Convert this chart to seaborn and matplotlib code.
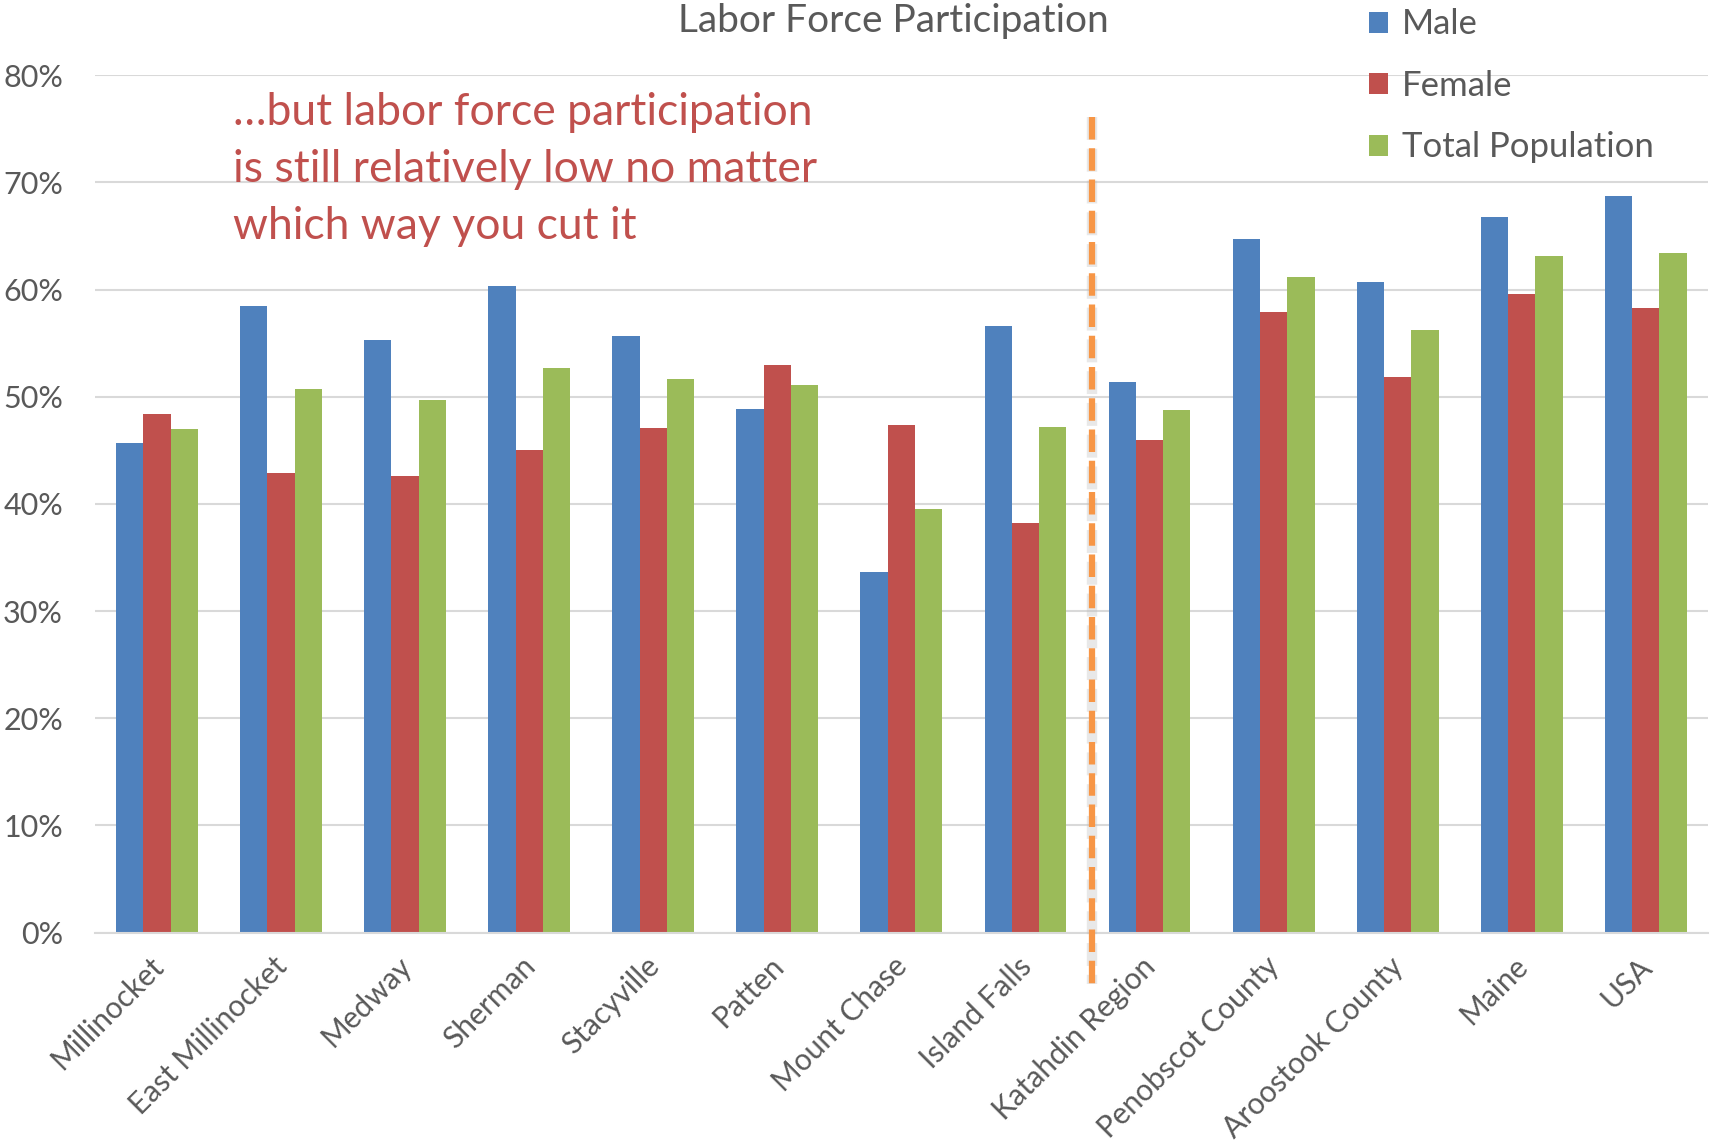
import numpy as np
import pandas as pd
import matplotlib
matplotlib.use("Agg")
import matplotlib.pyplot as plt
import matplotlib.transforms as mtransforms
import seaborn as sns
from matplotlib.patches import Patch

# Labor force participation rates (%) by place
places = ["Millinocket", "East Millinocket", "Medway", "Sherman", "Stacyville",
          "Patten", "Mount Chase", "Island Falls", "Katahdin Region",
          "Penobscot County", "Aroostook County", "Maine", "USA"]
male = [45.7, 58.5, 55.3, 60.3, 55.7, 48.9, 33.6, 56.6, 51.4, 64.7, 60.7, 66.8, 68.7]
female = [48.4, 42.9, 42.6, 45.0, 47.1, 53.0, 47.4, 38.2, 46.0, 57.9, 51.8, 59.6, 58.3]
total = [47.0, 50.7, 49.7, 52.7, 51.7, 51.1, 39.5, 47.2, 48.8, 61.2, 56.2, 63.1, 63.4]
series_names = ["Male", "Female", "Total Population"]
series_colors = ["#4F81BD", "#C0504D", "#9BBB59"]
y_ticks = [0, 10, 20, 30, 40, 50, 60, 70, 80]

df = pd.DataFrame({
    "Place": places * 3,
    "Series": np.repeat(series_names, len(places)),
    "Rate": male + female + total,
})

sns.set_theme(style="white")
plt.rcParams["font.family"] = ["Lato", "DejaVu Sans"]

text_gray = "#595959"
fig = plt.figure(figsize=(17.14, 11.4), dpi=100)
ax = fig.add_axes([0.0554, 0.182, 0.941, 0.752])

sns.barplot(data=df, x="Place", y="Rate", hue="Series", hue_order=series_names,
            palette=series_colors, width=0.66, saturation=1, ax=ax,
            edgecolor="none", linewidth=0, legend=False)

ax.set_ylim(0, 80)
ax.set_xlim(-0.5, len(places) - 0.5)
ax.set_yticks(y_ticks)
ax.set_yticklabels([f"{v}%" for v in y_ticks])
ax.yaxis.grid(True, color="#D9D9D9", linewidth=1.5)
ax.set_axisbelow(True)
for side in ["left", "right", "top"]:
    ax.spines[side].set_visible(False)
ax.spines["bottom"].set_color("#D9D9D9")
ax.spines["bottom"].set_linewidth(1.5)
ax.set_xlabel("")
ax.set_ylabel("")
ax.tick_params(axis="y", length=0, pad=23, labelsize=22, labelcolor=text_gray)
ax.tick_params(axis="x", length=0, pad=14, labelsize=21.5, labelcolor=text_gray)
shift = mtransforms.ScaledTranslation(-6 / 72, 0, fig.dpi_scale_trans)
for lbl in ax.get_xticklabels():
    lbl.set_rotation(45)
    lbl.set_ha("right")
    lbl.set_va("top")
    lbl.set_rotation_mode("anchor")
    lbl.set_transform(lbl.get_transform() + shift)

# Divider between towns and wider regions
div_x = 7.54
ax.plot([div_x, div_x], [76.1, -4.8], color="#BFBFBF", alpha=0.35, linewidth=7.5,
        dashes=(2.2, 0.85), clip_on=False, zorder=4, solid_capstyle="butt")
ax.plot([div_x, div_x], [76.1, -4.8], color="#F79646", linewidth=4.5,
        dashes=(3.6, 1.4), clip_on=False, zorder=5)

# Title
fig.text(0.521, 0.982, "Labor Force Participation", ha="center", va="center",
         fontsize=28, color=text_gray)

# Callout text
ax.text(0.136, 0.919,
        "…but labor force participation\nis still relatively low no matter\nwhich way you cut it",
        transform=fig.transFigure, ha="left", va="top", fontsize=32,
        color="#C0504D", linespacing=1.48)

# Legend
handles = [Patch(facecolor=c, edgecolor="none") for c in series_colors]
fig.legend(handles, series_names, loc="upper left", bbox_to_anchor=(0.7805, 1.02),
           frameon=False, fontsize=25, labelcolor=text_gray, handlelength=0.55,
           handleheight=0.55, handletextpad=0.4, labelspacing=0.85)

fig.savefig("out.png", dpi=100)
